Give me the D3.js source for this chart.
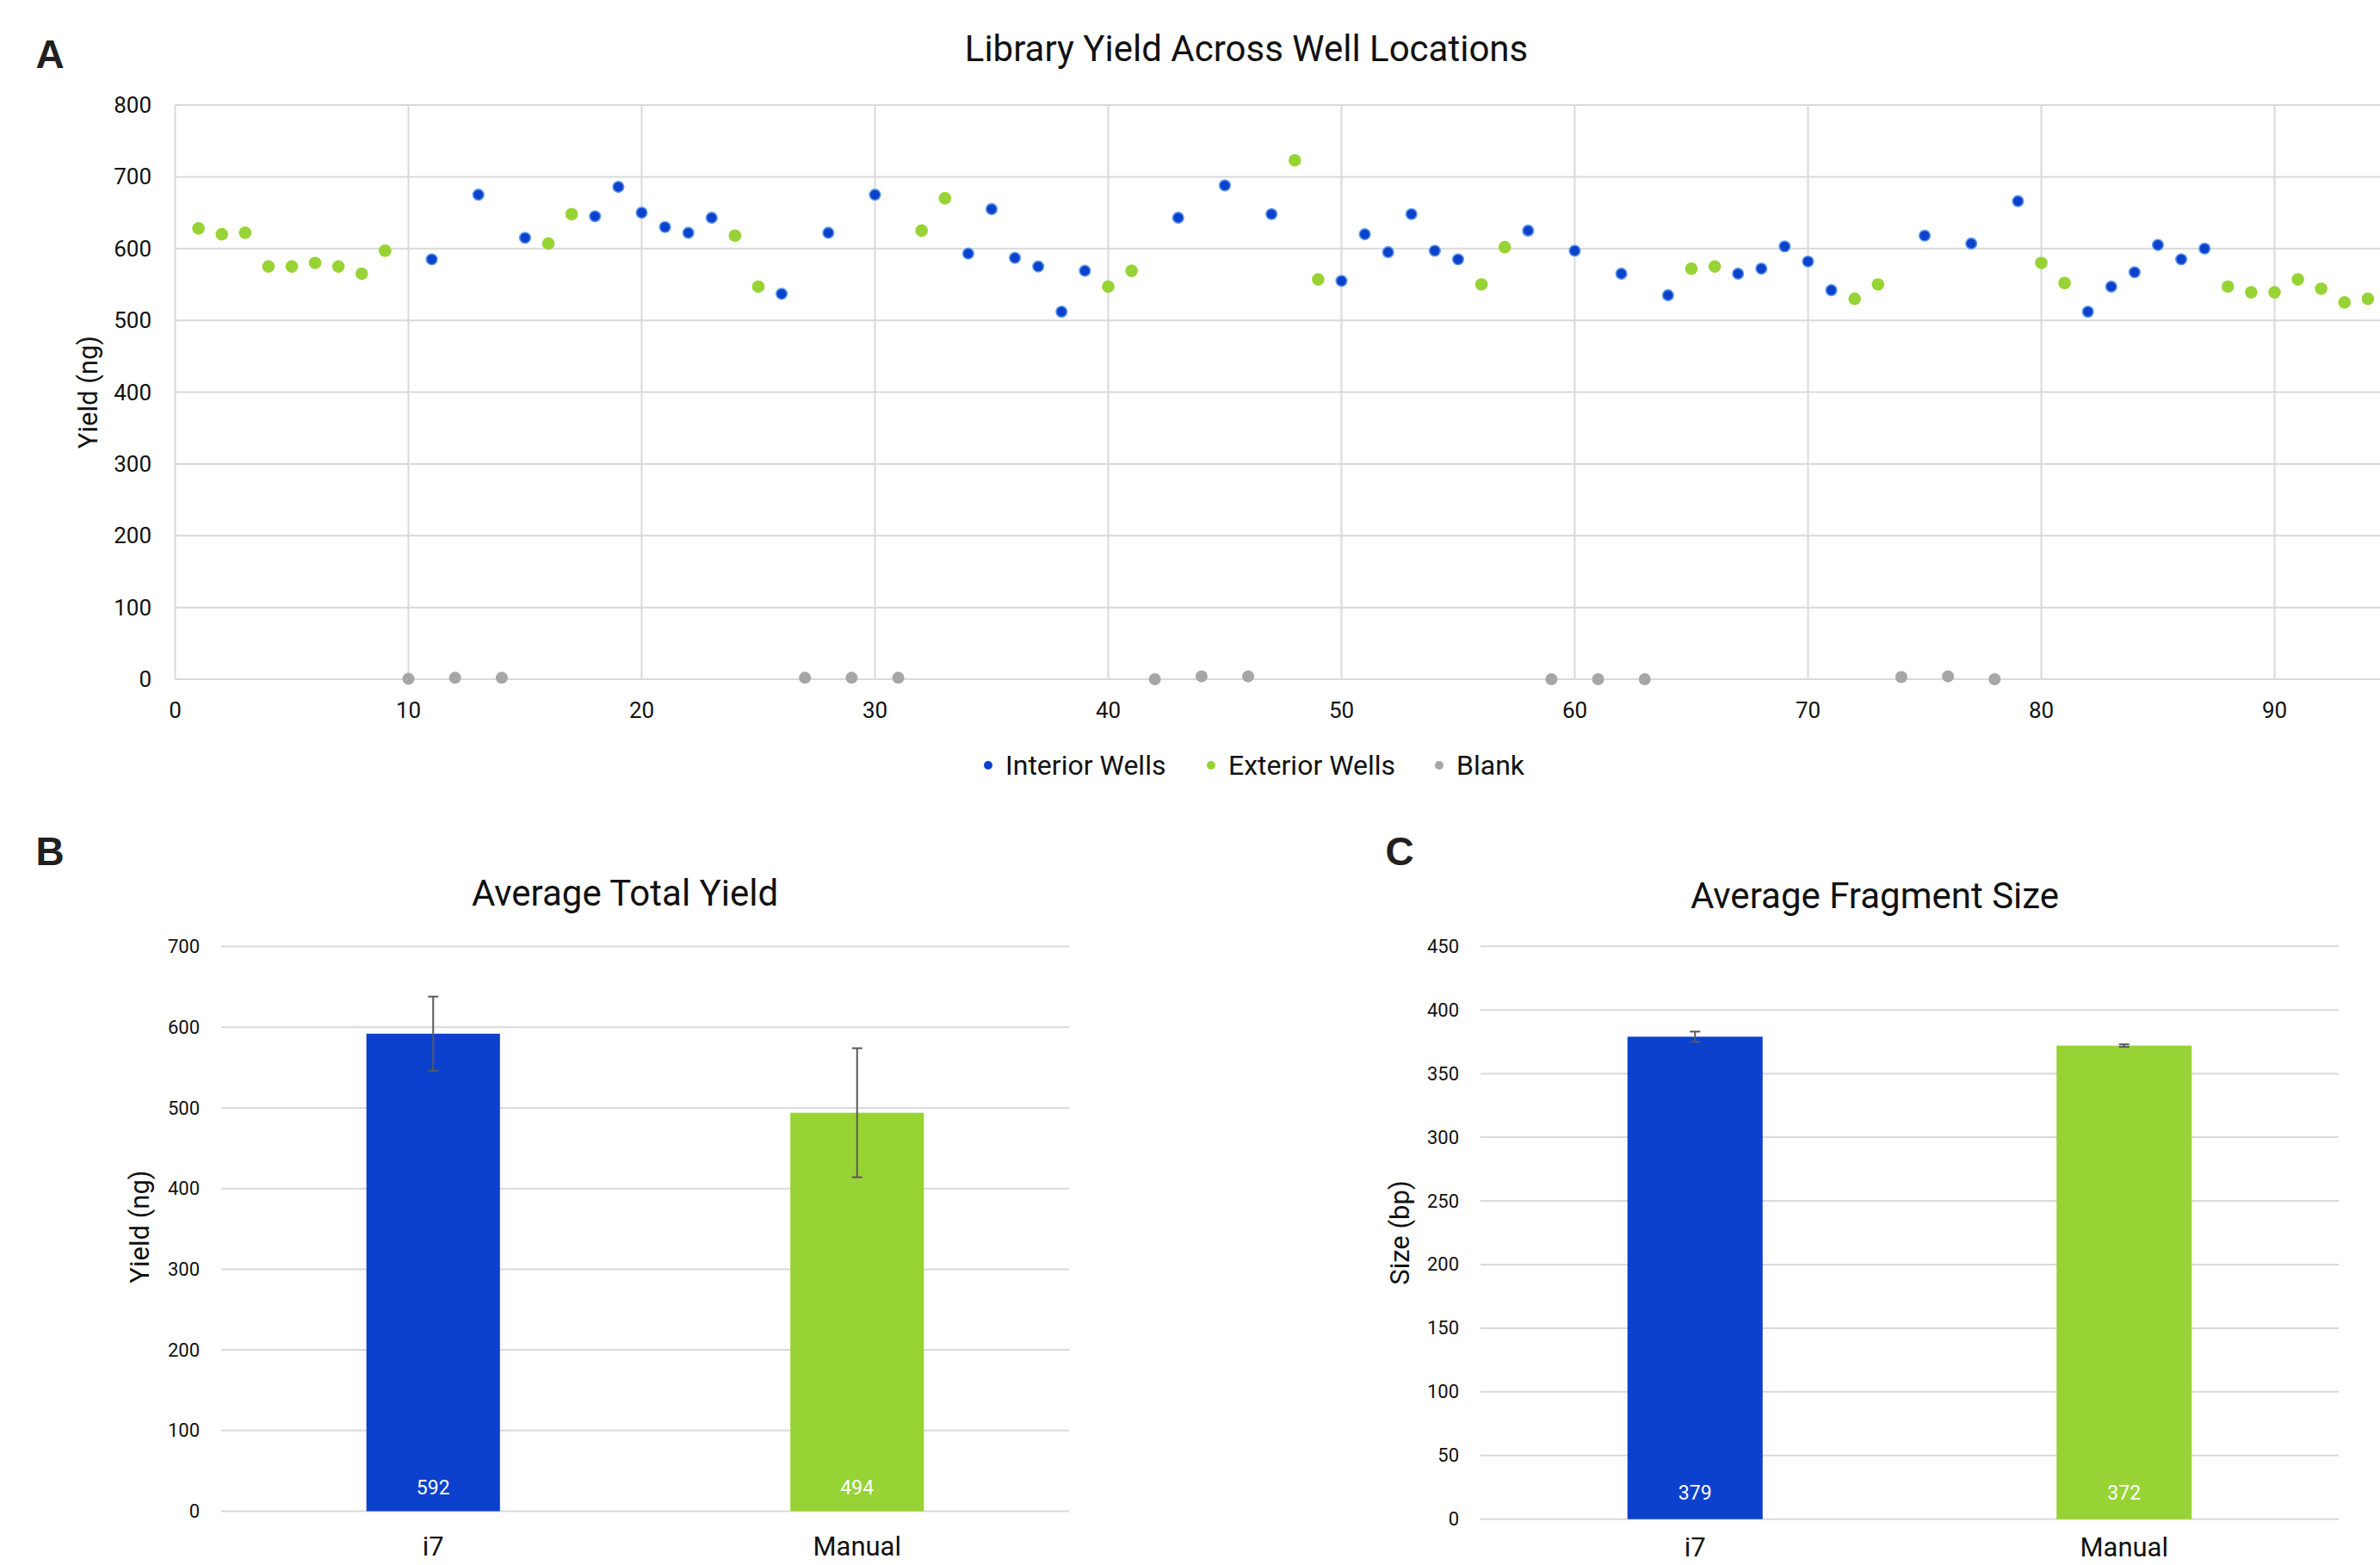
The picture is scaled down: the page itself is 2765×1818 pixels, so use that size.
<!DOCTYPE html>
<html>
<head>
<meta charset="utf-8">
<script src="https://cdn.jsdelivr.net/npm/d3@7"></script>
<style>
  html, body { margin: 0; padding: 0; background: #ffffff; }
  svg { display: block; font-family: Roboto, "Noto Sans", sans-serif; }
</style>
</head>
<body>
<svg id="fig" width="2765" height="1818"></svg>
<script>
// ---- Panel A: library yield per well (ng) ----
const interiorWells = [11, 13, 15, 18, 19, 20, 21, 22, 23, 26, 28, 30, 34, 35, 36, 37, 38, 39, 43, 45, 47, 50,
  51, 52, 53, 54, 55, 58, 60, 62, 64, 67, 68, 69, 70, 71, 75, 77, 79, 82, 83, 84, 85, 86, 87];
const interiorYield = [585, 675, 615, 645, 686, 650, 630, 622, 643, 537, 622, 675, 593, 655, 587, 575, 512, 569, 643, 688, 648, 555,
  620, 595, 648, 597, 585, 625, 597, 565, 535, 565, 572, 603, 582, 542, 618, 607, 666, 512, 547, 567, 605, 585, 600];

const exteriorWells = [1, 2, 3, 4, 5, 6, 7, 8, 9, 16, 17, 24, 25, 32, 33, 40, 41, 48, 49, 56, 57, 65, 66, 72, 73,
  80, 81, 88, 89, 90, 91, 92, 93, 94];
const exteriorYield = [628, 620, 622, 575, 575, 580, 575, 565, 597, 607, 648, 618, 547, 625, 670, 547, 569, 723, 557, 550, 602, 572, 575, 530, 550,
  580, 552, 547, 539, 539, 557, 544, 525, 530];

const blankWells = [10, 12, 14, 27, 29, 31, 42, 44, 46, 59, 61, 63, 74, 76, 78];
const blankYield = [0.5, 2, 2, 2, 2, 2, 0, 4, 4, 0, 0, 0, 3, 4, 0];

const wellTicks = [0, 10, 20, 30, 40, 50, 60, 70, 80, 90];
const yieldTicksA = [0, 100, 200, 300, 400, 500, 600, 700, 800];

// ---- Panel B: average total yield ----
const methods = ["i7", "Manual"];
const avgYield = [592, 494];
const avgYieldErr = [46, 80];
const yieldTicksB = [0, 100, 200, 300, 400, 500, 600, 700];

// ---- Panel C: average fragment size ----
const avgSize = [379, 372];
const avgSizeErr = [4, 1];
const sizeTicksC = [0, 50, 100, 150, 200, 250, 300, 350, 400, 450];

const BLUE = "#0c41cd", BLUE_RIM = "#5f9be8", GREEN = "#97d334", GREY = "#a6a6a6";
const GRID = "#d9d9d9", TEXT = "#111111";

const svg = d3.select("#fig");

function panelLetter(x, y, t) {
  svg.append("text").attr("x", x).attr("y", y).attr("text-anchor", "middle")
    .attr("dominant-baseline", "central")
    .style("font-family", "'Liberation Sans', Arial, sans-serif")
    .style("font-weight", "bold").style("font-size", "46px").attr("fill", "#231f20").text(t);
}

// ================= Panel A =================
const xA = d3.scaleLinear().domain([0, 100]).range([203.5, 203.5 + 2710]);
const yA = d3.scaleLinear().domain([0, 800]).range([789, 122]);
const gA = svg.append("g");

panelLetter(58, 63, "A");

gA.append("text").attr("x", 1448).attr("y", 56).attr("text-anchor", "middle")
  .attr("dominant-baseline", "central").style("font-size", "42px").attr("fill", TEXT)
  .text("Library Yield Across Well Locations");

// gridlines
gA.selectAll("line.hgrid").data(yieldTicksA).join("line").attr("class", "hgrid")
  .attr("x1", xA(0)).attr("x2", xA(100)).attr("y1", d => yA(d)).attr("y2", d => yA(d))
  .attr("stroke", GRID).attr("stroke-width", 2);
gA.selectAll("line.vgrid").data(wellTicks.concat([100])).join("line").attr("class", "vgrid")
  .attr("x1", d => xA(d)).attr("x2", d => xA(d)).attr("y1", yA(800)).attr("y2", yA(0))
  .attr("stroke", GRID).attr("stroke-width", 2);

// tick labels
gA.selectAll("text.ytick").data(yieldTicksA).join("text").attr("class", "ytick")
  .attr("x", 176).attr("y", d => yA(d)).attr("text-anchor", "end").attr("dominant-baseline", "central")
  .style("font-size", "26px").attr("fill", TEXT).text(d => d);
gA.selectAll("text.xtick").data(wellTicks).join("text").attr("class", "xtick")
  .attr("x", d => xA(d)).attr("y", 825).attr("text-anchor", "middle").attr("dominant-baseline", "central")
  .style("font-size", "26px").attr("fill", TEXT).text(d => d);

gA.append("text").attr("transform", `translate(102,${(yA(0) + yA(800)) / 2}) rotate(-90)`)
  .attr("text-anchor", "middle").attr("dominant-baseline", "central")
  .style("font-size", "31px").attr("fill", TEXT).text("Yield (ng)");

// points
gA.selectAll("circle.blank").data(blankWells).join("circle").attr("class", "blank")
  .attr("cx", d => xA(d)).attr("cy", (d, i) => yA(blankYield[i])).attr("r", 7).attr("fill", GREY);
gA.selectAll("circle.ext").data(exteriorWells).join("circle").attr("class", "ext")
  .attr("cx", d => xA(d)).attr("cy", (d, i) => yA(exteriorYield[i])).attr("r", 7.3).attr("fill", GREEN);
gA.selectAll("circle.int").data(interiorWells).join("circle").attr("class", "int")
  .attr("cx", d => xA(d)).attr("cy", (d, i) => yA(interiorYield[i])).attr("r", 6.3)
  .attr("fill", BLUE).attr("stroke", BLUE_RIM).attr("stroke-width", 1.6);

// legend
const legendItems = [
  { label: "Interior Wells", color: BLUE, x: 1148 },
  { label: "Exterior Wells", color: GREEN, x: 1407 },
  { label: "Blank", color: GREY, x: 1672 }
];
const lg = gA.selectAll("g.leg").data(legendItems).join("g").attr("class", "leg")
  .attr("transform", d => `translate(${d.x},889)`);
lg.append("circle").attr("r", 5).attr("fill", d => d.color);
lg.append("text").attr("x", 20).attr("dominant-baseline", "central")
  .style("font-size", "32px").attr("fill", TEXT).text(d => d.label);

// ================= Bar panels =================
function barPanel(opts) {
  const g = svg.append("g");
  const x = d3.scaleBand().domain(methods).range([opts.x0, opts.x1]).paddingInner(0.685).paddingOuter(0.3425);
  const y = d3.scaleLinear().domain([0, opts.max]).range([opts.yBase, opts.yTop]);

  panelLetter(opts.letterX, 989, opts.letter);

  g.append("text").attr("x", opts.titleX).attr("y", opts.titleY).attr("text-anchor", "middle")
    .attr("dominant-baseline", "central").style("font-size", "42px").attr("fill", TEXT).text(opts.title);

  g.selectAll("line.grid").data(opts.ticks).join("line").attr("class", "grid")
    .attr("x1", opts.x0).attr("x2", opts.x1).attr("y1", d => y(d)).attr("y2", d => y(d))
    .attr("stroke", GRID).attr("stroke-width", 2);
  g.selectAll("text.ytick").data(opts.ticks).join("text").attr("class", "ytick")
    .attr("x", opts.x0 - 25).attr("y", d => y(d)).attr("text-anchor", "end").attr("dominant-baseline", "central")
    .style("font-size", "22px").attr("fill", TEXT).text(d => d);

  g.append("text").attr("transform", `translate(${opts.yTitleX},${opts.yTitleY}) rotate(-90)`)
    .attr("text-anchor", "middle").attr("dominant-baseline", "central")
    .style("font-size", "31px").attr("fill", TEXT).text(opts.yTitle);

  const colors = [BLUE, GREEN];
  g.selectAll("rect.bar").data(methods).join("rect").attr("class", "bar")
    .attr("x", d => x(d)).attr("width", x.bandwidth())
    .attr("y", (d, i) => y(opts.values[i])).attr("height", (d, i) => y(0) - y(opts.values[i]))
    .attr("fill", (d, i) => colors[i]);

  // error bars
  const eb = g.selectAll("g.err").data(methods).join("g").attr("class", "err")
    .attr("transform", d => `translate(${x(d) + x.bandwidth() / 2},0)`);
  eb.append("line").attr("y1", (d, i) => y(opts.values[i] + opts.errs[i]))
    .attr("y2", (d, i) => y(opts.values[i] - opts.errs[i])).attr("stroke", "#595959").attr("stroke-width", 2);
  eb.append("line").attr("x1", -6).attr("x2", 6)
    .attr("y1", (d, i) => y(opts.values[i] + opts.errs[i])).attr("y2", (d, i) => y(opts.values[i] + opts.errs[i]))
    .attr("stroke", "#595959").attr("stroke-width", 2);
  eb.append("line").attr("x1", -6).attr("x2", 6)
    .attr("y1", (d, i) => y(opts.values[i] - opts.errs[i])).attr("y2", (d, i) => y(opts.values[i] - opts.errs[i]))
    .attr("stroke", "#595959").attr("stroke-width", 2);

  // value labels
  g.selectAll("text.val").data(methods).join("text").attr("class", "val")
    .attr("x", d => x(d) + x.bandwidth() / 2).attr("y", y(0) - opts.valOffset)
    .attr("text-anchor", "middle").attr("dominant-baseline", "central")
    .style("font-size", "23px").attr("fill", "#ffffff").text((d, i) => opts.values[i]);

  // category labels
  g.selectAll("text.cat").data(methods).join("text").attr("class", "cat")
    .attr("x", d => x(d) + x.bandwidth() / 2).attr("y", opts.catY)
    .attr("text-anchor", "middle").attr("dominant-baseline", "central")
    .style("font-size", "31px").attr("fill", TEXT).text(d => d);
}

barPanel({
  letter: "B", letterX: 58, title: "Average Total Yield", titleX: 726, titleY: 1037,
  x0: 257, x1: 1242, yBase: 1755.5, yTop: 1099.6, max: 700, ticks: yieldTicksB,
  yTitle: "Yield (ng)", yTitleX: 162, yTitleY: 1425,
  values: avgYield, errs: avgYieldErr, valOffset: 27, catY: 1796
});

barPanel({
  letter: "C", letterX: 1626, title: "Average Fragment Size", titleX: 2178, titleY: 1040,
  x0: 1720, x1: 2717, yBase: 1764.7, yTop: 1099.3, max: 450, ticks: sizeTicksC,
  yTitle: "Size (bp)", yTitleX: 1626, yTitleY: 1432,
  values: avgSize, errs: avgSizeErr, valOffset: 30, catY: 1797
});
</script>
</body>
</html>
